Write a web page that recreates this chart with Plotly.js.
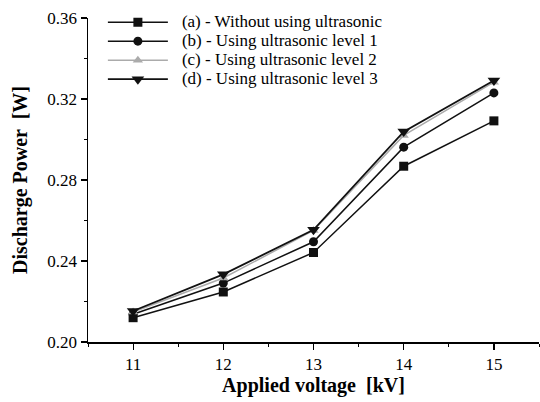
<!DOCTYPE html>
<html><head><meta charset="utf-8">
<script src="https://cdn.plot.ly/plotly-3.0.1.min.js"></script>
<style>html,body{margin:0;padding:0;background:#fff}#plot{width:540px;height:402px}</style>
</head><body><div id="plot"></div>
<script>
const voltage = [11, 12, 13, 14, 15];
const seriesA = [0.212, 0.2247, 0.2442, 0.2868, 0.3092];
const seriesB = [0.2137, 0.2291, 0.2495, 0.2962, 0.3230];
const seriesC = [0.2148, 0.2316, 0.2551, 0.3020, 0.3283];
const seriesD = [0.2153, 0.2334, 0.2554, 0.3039, 0.3291];
const names = ["(a) - Without using ultrasonic", "(b) - Using ultrasonic level 1", "(c) - Using ultrasonic level 2", "(d) - Using ultrasonic level 3"];
const yTicks = [0.20, 0.24, 0.28, 0.32, 0.36];
const yTickText = ["0.20", "0.24", "0.28", "0.32", "0.36"];

const mk = (y, name, sym, col, lw, size) => ({
  x: voltage, y: y, type: 'scatter', mode: 'lines+markers',
  name: '&nbsp;&nbsp;&nbsp;<span style="font-size:17px">' + name + '</span>',
  line: {color: col, width: lw},
  marker: {symbol: sym, color: col, size: size}
});
const data = [
  mk(seriesA, names[0], 'square', '#111', 1.5, 9),
  mk(seriesB, names[1], 'circle', '#111', 1.5, 9),
  mk(seriesC, names[2], 'triangle-up', '#ababab', 1.5, 9),
  mk(seriesD, names[3], 'triangle-down', '#111', 1.8, 11)
];
const FAM = 'Liberation Serif, Times New Roman, Times, serif';
const f = (size, extra) => Object.assign({family: FAM, color: '#000', size: size}, extra || {});
const layout = {
  width: 540, height: 402,
  margin: {l: 88, r: 1, t: 18, b: 60},
  paper_bgcolor: '#fff', plot_bgcolor: '#fff',
  font: f(16),
  showlegend: true,
  legend: {x: 0.033, y: 1.032, xanchor: 'left', yanchor: 'top', bgcolor: 'rgba(0,0,0,0)',
           font: f(12), tracegroupgap: 0, itemwidth: 60},
  xaxis: {range: [10.5, 15.5], tickvals: voltage, showline: true, linecolor: '#000', linewidth: 1.5,
          ticks: 'outside', ticklen: 6, tickwidth: 1.2, tickcolor: '#000', showgrid: false, zeroline: false,
          minor: {dtick: 0.5, tick0: 10.5, ticks: 'outside', ticklen: 3, tickwidth: 1, tickcolor: '#000', showgrid: false},
          tickfont: f(17),
          title: {text: 'Applied voltage  [kV]', font: f(20, {weight: 'bold'}), standoff: 2}},
  yaxis: {range: [0.20, 0.36], tickvals: yTicks, ticktext: yTickText, showline: true, linecolor: '#000', linewidth: 1.5,
          ticks: 'outside', ticklen: 6, tickwidth: 1.2, tickcolor: '#000', showgrid: false, zeroline: false,
          minor: {dtick: 0.02, ticks: 'outside', ticklen: 3, tickwidth: 1, tickcolor: '#000', showgrid: false},
          tickfont: f(17),
          title: {text: 'Discharge Power  [W]', font: f(20, {weight: 'bold'}), standoff: 14}}
};
Plotly.newPlot('plot', data, layout, {staticPlot: true, displayModeBar: false});
</script></body></html>
